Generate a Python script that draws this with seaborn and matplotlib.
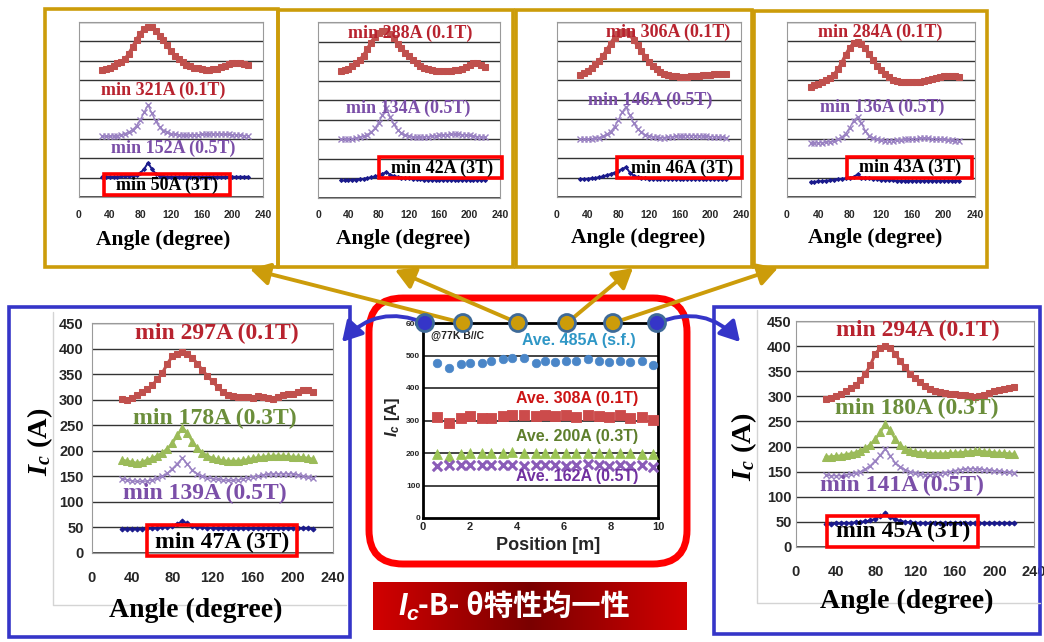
import numpy as np
import pandas as pd
import matplotlib
matplotlib.use('Agg')
import matplotlib.pyplot as plt
import seaborn as sns
from matplotlib.patches import Rectangle, FancyBboxPatch, Circle, FancyArrowPatch
from matplotlib.colors import LinearSegmentedColormap

# ---------------- data ----------------
ANGLE = [30, 35, 40, 45, 50, 55, 60, 65, 70, 75, 80, 85, 90, 95, 100, 105, 110, 115, 120, 125,
         130, 135, 140, 145, 150, 155, 160, 165, 170, 175, 180, 185, 190, 195, 200, 205, 210, 215, 220]
ANGLE_TICKS = [0, 40, 80, 120, 160, 200, 240]
IC_TICKS = [0, 50, 100, 150, 200, 250, 300, 350, 400, 450]

# left large panel
L_01 = [302, 300, 303, 310, 315, 320, 328, 340, 352, 370, 385, 390, 393, 390, 382, 370, 358, 346, 336, 325,
        315, 310, 307, 306, 305, 305, 304, 307, 306, 303, 302, 305, 310, 312, 312, 315, 318, 318, 315]
L_03 = [182, 180, 178, 176, 178, 182, 185, 190, 196, 204, 215, 230, 245, 235, 218, 205, 196, 190, 186, 183,
        181, 180, 180, 180, 181, 183, 185, 187, 188, 189, 190, 190, 190, 189, 188, 188, 187, 186, 184]
L_05 = [145, 143, 141, 140, 140, 141, 143, 146, 150, 156, 165, 175, 186, 174, 162, 155, 150, 147, 145, 144,
        143, 142, 142, 143, 145, 147, 149, 151, 152, 154, 155, 155, 155, 155, 155, 153, 150, 148, 147]
L_3T = [47, 47, 47, 47, 47, 48, 48, 49, 50, 51, 53, 57, 62, 58, 53, 51, 50, 49, 49, 48,
        48, 48, 48, 48, 48, 48, 48, 48, 48, 48, 48, 48, 48, 48, 48, 48, 48, 48, 47]
# right large panel
R_01 = [294, 297, 300, 305, 310, 316, 322, 332, 345, 362, 385, 396, 400, 396, 385, 370, 358, 345, 336, 328,
        320, 315, 311, 308, 306, 305, 304, 303, 302, 300, 299, 300, 303, 307, 310, 312, 314, 317, 318]
R_03 = [180, 180, 181, 182, 184, 186, 188, 192, 197, 204, 215, 228, 245, 232, 215, 203, 196, 192, 190, 188,
        187, 186, 186, 186, 186, 187, 187, 188, 189, 190, 191, 191, 190, 189, 188, 187, 187, 186, 185]
R_05 = [143, 142, 142, 142, 143, 145, 147, 150, 155, 162, 172, 183, 196, 182, 168, 160, 154, 150, 147, 145,
        144, 144, 145, 146, 148, 150, 152, 154, 155, 156, 156, 155, 154, 153, 152, 151, 150, 149, 148]
R_3T = [46, 46, 47, 47, 48, 48, 49, 50, 51, 53, 56, 61, 67, 60, 55, 52, 50, 49, 48, 48,
        47, 47, 47, 47, 47, 47, 47, 47, 47, 47, 47, 47, 47, 47, 47, 47, 47, 47, 47]
# top panels
T1_01 = [326, 328, 332, 338, 344, 348, 354, 368, 385, 404, 420, 432, 438, 437, 428, 415, 403, 390, 375, 363,
         355, 347, 340, 336, 333, 331, 329, 327, 327, 328, 330, 334, 338, 342, 344, 345, 345, 343, 340]
T1_05 = [157, 156, 156, 157, 158, 160, 163, 167, 173, 183, 198, 218, 237, 215, 195, 180, 171, 166, 163, 161,
         160, 159, 159, 159, 160, 160, 161, 161, 162, 162, 162, 162, 161, 161, 160, 160, 159, 158, 158]
T1_3T = [52, 52, 52, 52, 52, 53, 53, 54, 55, 57, 62, 72, 88, 72, 60, 55, 53, 52, 52, 52,
         52, 52, 52, 52, 52, 52, 52, 52, 52, 52, 52, 52, 52, 52, 52, 52, 52, 52, 52]
T2_01 = [324, 327, 331, 337, 344, 352, 364, 380, 397, 412, 422, 428, 427, 420, 408, 394, 383, 372, 362, 353,
         345, 338, 333, 329, 326, 325, 324, 324, 324, 325, 326, 328, 331, 336, 341, 345, 345, 340, 335]
T2_05 = [151, 151, 151, 152, 153, 155, 158, 162, 168, 178, 193, 212, 230, 208, 188, 174, 166, 161, 158, 156,
         155, 155, 156, 157, 158, 159, 160, 161, 162, 163, 163, 163, 162, 161, 160, 158, 157, 156, 155]
T2_3T = [45, 45, 46, 46, 47, 48, 49, 51, 53, 55, 58, 62, 66, 60, 56, 54, 52, 51, 50, 49,
         48, 48, 47, 47, 47, 46, 46, 46, 46, 46, 46, 46, 46, 46, 46, 46, 46, 46, 46]
T3_01 = [314, 318, 325, 333, 341, 350, 362, 378, 394, 410, 420, 425, 425, 418, 404, 390, 375, 361, 348, 337,
         328, 322, 317, 313, 311, 310, 309, 309, 309, 310, 311, 312, 313, 314, 315, 316, 317, 317, 316]
T3_05 = [149, 149, 149, 150, 151, 153, 156, 161, 168, 180, 198, 218, 232, 210, 190, 175, 166, 160, 157, 155,
         154, 153, 153, 154, 155, 156, 157, 158, 158, 158, 158, 157, 157, 156, 155, 155, 154, 154, 153]
T3_3T = [46, 46, 47, 48, 49, 51, 53, 56, 59, 63, 67, 72, 77, 63, 55, 51, 49, 48, 47, 47,
         46, 46, 46, 46, 46, 46, 46, 46, 46, 46, 46, 46, 46, 46, 46, 46, 46, 46, 46]
T4_01 = [284, 287, 291, 296, 301, 306, 314, 328, 345, 365, 383, 395, 398, 393, 382, 367, 352, 338, 326, 316,
         308, 302, 299, 297, 296, 296, 296, 296, 297, 298, 300, 303, 306, 309, 311, 312, 311, 310, 309]
T4_05 = [139, 139, 139, 140, 141, 142, 144, 148, 154, 163, 178, 196, 206, 190, 170, 158, 152, 148, 146, 145,
         145, 145, 146, 147, 148, 149, 150, 150, 151, 151, 151, 150, 150, 149, 148, 147, 146, 145, 145]
T4_3T = [39, 39, 40, 41, 42, 43, 44, 46, 47, 48, 49, 52, 58, 50, 49, 48, 47, 46, 45, 44,
         43, 43, 42, 42, 42, 42, 42, 42, 42, 42, 42, 42, 42, 42, 42, 42, 42, 42, 42]

# centre panel (Ic vs position)
POSITION = [0.6, 1.1, 1.6, 2.0, 2.5, 2.9, 3.4, 3.8, 4.3, 4.8, 5.2, 5.6, 6.1, 6.5, 7.0, 7.5, 7.9, 8.4, 8.8, 9.3, 9.8]
IC_SF = [476, 461, 474, 476, 478, 484, 488, 491, 491, 478, 484, 481, 484, 484, 488, 484, 481, 484, 481, 484, 471]
IC_01 = [312, 292, 307, 314, 307, 307, 314, 317, 317, 314, 317, 314, 317, 312, 317, 314, 310, 317, 307, 312, 303]
IC_03 = [197, 190, 198, 199, 200, 199, 201, 202, 201, 200, 201, 200, 201, 200, 199, 200, 201, 200, 199, 198, 197]
IC_05 = [160, 163, 162, 164, 163, 162, 164, 163, 161, 163, 164, 162, 161, 163, 165, 162, 161, 163, 160, 162, 158]
POS_TICKS = [0, 2, 4, 6, 8, 10]
POS_IC_TICKS = [0, 100, 200, 300, 400, 500, 600]

# ---------------- style ----------------
sns.set_theme(style='white')
plt.rcParams['font.family'] = ['Liberation Sans', 'DejaVu Sans']
plt.rcParams['mathtext.fontset'] = 'custom'
plt.rcParams['mathtext.it'] = 'Liberation Serif:italic:bold'
plt.rcParams['mathtext.rm'] = 'Liberation Serif:bold'
plt.rcParams['mathtext.sf'] = 'Liberation Sans:italic:bold'

C_RED = '#C0504D'
C_GREEN = '#9BBB59'
C_PURPLE = '#9A82C2'
C_NAVY = '#1A1A8C'
T_RED = '#B8232F'
T_GREEN = '#6B8E3B'
T_PURPLE = '#7B4FA8'
GOLD = '#CC9C0A'
BLUE = '#3535C8'

W, H = 1044, 642
fig = plt.figure(figsize=(W / 100, H / 100), dpi=100)
fig.patch.set_facecolor('white')


def px_axes(x0, y0, x1, y1, **kw):
    return fig.add_axes([x0 / W, 1 - y1 / H, (x1 - x0) / W, (y1 - y0) / H], **kw)


def angle_panel(box, curves, big):
    ax = px_axes(*box)
    ax.set_facecolor('white')
    ms = 5.0 if big else 4.0
    lw_r = 2.2 if big else 2.6
    for vals, kind in curves:
        if kind == '01':
            sns.lineplot(x=ANGLE, y=vals, ax=ax, color=C_RED, marker='s', markersize=ms,
                         mec=C_RED, mfc=C_RED, lw=lw_r)
        elif kind == '03':
            sns.lineplot(x=ANGLE, y=vals, ax=ax, color=C_GREEN, marker='^', markersize=ms + 1,
                         mec=C_GREEN, mfc=C_GREEN, lw=1.8)
        elif kind == '05':
            sns.lineplot(x=ANGLE, y=vals, ax=ax, color=C_PURPLE, marker='x', markersize=ms,
                         mec=C_PURPLE, mew=1.0, lw=1.0)
        else:
            sns.lineplot(x=ANGLE, y=vals, ax=ax, color=C_NAVY, marker='D', markersize=ms * 0.5,
                         mec=C_NAVY, mfc=C_NAVY, lw=1.4)
    ax.set_xlim(0, 240)
    ax.set_ylim(0, 450)
    ax.grid(False)
    ax.set_yticks(IC_TICKS)
    for v in IC_TICKS[1:]:
        ax.axhline(v, color='#333333', lw=1.0, zorder=0.5)
    ax.axhline(0, color='#333333', lw=1.2, zorder=0.5)
    for s in ax.spines.values():
        s.set_color('#9a9a9a')
        s.set_linewidth(0.8)
    if big:
        ax.set_xticks(ANGLE_TICKS, [str(t) for t in ANGLE_TICKS], fontsize=10.5, fontweight='bold')
        ax.set_yticklabels([str(t) for t in IC_TICKS], fontsize=10.5, fontweight='bold')
    else:
        ax.set_xticks(ANGLE_TICKS, [str(t) for t in ANGLE_TICKS], fontsize=7.5, fontweight='bold')
        ax.set_yticklabels([])
    ax.tick_params(axis='x', direction='in', length=3, color='#555555', pad=13 if big else 9)
    ax.tick_params(axis='y', length=0, pad=6)
    ax.set_xlabel('')
    ax.set_ylabel('')
    return ax


# top panels
axT1 = angle_panel((79, 22, 263, 197), [(T1_01, '01'), (T1_05, '05'), (T1_3T, '3T')], False)
axT2 = angle_panel((318, 22, 500, 198), [(T2_01, '01'), (T2_05, '05'), (T2_3T, '3T')], False)
axT3 = angle_panel((557, 22, 741, 197), [(T3_01, '01'), (T3_05, '05'), (T3_3T, '3T')], False)
axT4 = angle_panel((787, 22, 975, 197), [(T4_01, '01'), (T4_05, '05'), (T4_3T, '3T')], False)
# side panels
axL = angle_panel((92, 323, 333, 553), [(L_01, '01'), (L_03, '03'), (L_05, '05'), (L_3T, '3T')], True)
axR = angle_panel((796, 321, 1034, 547), [(R_01, '01'), (R_03, '03'), (R_05, '05'), (R_3T, '3T')], True)
axR.tick_params(axis='y', pad=3)

# centre panel
axC = px_axes(423, 323, 658, 518)
axC.set_facecolor('white')
sns.scatterplot(x=POSITION, y=IC_SF, ax=axC, color='#4A86C8', marker='o', s=38, edgecolor='#4A86C8', zorder=3)
sns.scatterplot(x=POSITION, y=IC_01, ax=axC, color='#CC4B4B', marker='s', s=60, edgecolor='#CC4B4B', zorder=3)
sns.scatterplot(x=POSITION, y=IC_03, ax=axC, color='#9BC454', marker='^', s=50, edgecolor='#9BC454', zorder=3)
sns.scatterplot(x=POSITION, y=IC_05, ax=axC, color='#8A5CB8', marker='x', s=45, linewidth=2.2, zorder=3)
axC.set_xlim(0, 10)
axC.set_ylim(0, 600)
axC.grid(False)
for v in POS_IC_TICKS[1:-1]:
    axC.axhline(v, color='#111111', lw=1.1, zorder=1)
for s in axC.spines.values():
    s.set_color('black')
    s.set_linewidth(2.0)
axC.set_xticks(POS_TICKS, [str(t) for t in POS_TICKS], fontsize=8, fontweight='bold')
axC.set_yticks(POS_IC_TICKS, [str(t) for t in POS_IC_TICKS], fontsize=6, fontweight='bold')
axC.tick_params(direction='in', length=4, width=1.5, color='black', pad=3)
axC.tick_params(axis='y', pad=2)

# ---------------- overlay (pixel coordinates) ----------------
ov = fig.add_axes([0, 0, 1, 1], zorder=10)
ov.set_xlim(0, W)
ov.set_ylim(H, 0)
ov.axis('off')
ov.patch.set_alpha(0)

# chart-area borders of the side panels
ov.plot([53, 53, 346], [312, 605, 605], color='#d4d4d4', lw=1)
ov.plot([757, 757, 1040], [310, 603, 603], color='#d4d4d4', lw=1)

# gold boxes
for (x0, y0, x1, y1) in [(45, 9, 278, 267), (278, 10, 513, 267), (516, 10, 752, 267), (754, 11, 987, 267)]:
    ov.add_patch(Rectangle((x0, y0), x1 - x0, y1 - y0, fill=False, ec=GOLD, lw=2.6))
# blue boxes
for (x0, y0, x1, y1) in [(9, 307, 350, 637), (714, 307, 1040, 634)]:
    ov.add_patch(Rectangle((x0, y0), x1 - x0, y1 - y0, fill=False, ec=BLUE, lw=2.6))
# red rounded box
ov.add_patch(FancyBboxPatch((369, 298), 318, 266, boxstyle='round,pad=0,rounding_size=34',
                            fill=False, ec='#FF0000', lw=5.0))

serif = dict(family='Liberation Serif', weight='bold')

# curve annotations
def note(x, y, s, c, fs):
    ov.text(x, y, s, color=c, fontsize=fs, ha='center', va='center', **serif)

def redbox(x0, y0, x1, y1):
    ov.add_patch(Rectangle((x0, y0), x1 - x0, y1 - y0, fill=False, ec='#FF0000', lw=2.6))

fs_s = 13
note(163, 90, 'min 321A (0.1T)', T_RED, fs_s)
note(173, 148, 'min 152A (0.5T)', T_PURPLE, fs_s)
note(167, 185, 'min 50A (3T)', 'black', fs_s)
redbox(104, 174, 230, 195)
note(410, 33, 'min 288A (0.1T)', T_RED, fs_s)
note(408, 108, 'min 134A (0.5T)', T_PURPLE, fs_s)
note(442, 168, 'min 42A (3T)', 'black', fs_s)
redbox(379, 157, 502, 178)
note(668, 32, 'min 306A (0.1T)', T_RED, fs_s)
note(650, 100, 'min 146A (0.5T)', T_PURPLE, fs_s)
note(682, 168, 'min 46A (3T)', 'black', fs_s)
redbox(617, 157, 742, 178)
note(880, 32, 'min 284A (0.1T)', T_RED, fs_s)
note(882, 107, 'min 136A (0.5T)', T_PURPLE, fs_s)
note(910, 167, 'min 43A (3T)', 'black', fs_s)
redbox(847, 157, 972, 178)

fs_b = 17
note(217, 333, 'min 297A (0.1T)', T_RED, fs_b)
note(215, 418, 'min 178A (0.3T)', T_GREEN, fs_b)
note(205, 493, 'min 139A (0.5T)', T_PURPLE, fs_b)
note(222, 542, 'min 47A (3T)', 'black', fs_b)
redbox(147, 525, 297, 556)
note(918, 330, 'min 294A (0.1T)', T_RED, fs_b)
note(917, 408, 'min 180A (0.3T)', T_GREEN, fs_b)
note(902, 485, 'min 141A (0.5T)', T_PURPLE, fs_b)
note(903, 531, 'min 45A (3T)', 'black', fs_b)
redbox(827, 516, 978, 547)

# axis titles
for (x, y) in [(163, 240), (403, 239), (638, 238), (875, 238)]:
    ov.text(x, y, 'Angle (degree)', fontsize=15.5, ha='center', va='center', color='black', **serif)
ov.text(196, 610, 'Angle (degree)', fontsize=20, ha='center', va='center', color='black', **serif)
ov.text(907, 601, 'Angle (degree)', fontsize=20, ha='center', va='center', color='black', **serif)
ov.text(40, 442, r'$I_c$ (A)', fontsize=20.5, rotation=90, ha='center', va='center', color='black', **serif)
ov.text(744, 447, r'$I_c$ (A)', fontsize=20.5, rotation=90, ha='center', va='center', color='black', **serif)

# centre panel texts
ov.text(431, 336, '@77K B//C', fontsize=7.5, fontweight='bold', ha='left', va='center', color='#222222')
ov.text(579, 341, 'Ave. 485A (s.f.)', fontsize=11.5, fontweight='bold', ha='center', va='center', color='#2F97C6')
ov.text(577, 399, 'Ave. 308A (0.1T)', fontsize=11.5, fontweight='bold', ha='center', va='center', color='#CC1414')
ov.text(577, 437, 'Ave. 200A (0.3T)', fontsize=11.5, fontweight='bold', ha='center', va='center', color='#5E7E2C')
ov.text(577, 477, 'Ave. 162A (0.5T)', fontsize=11.5, fontweight='bold', ha='center', va='center', color='#7030A0')
ov.text(392, 417, r'$\mathsf{I_c}$ [A]', fontsize=12, fontweight='bold', rotation=90, ha='center', va='center')
ov.text(548, 546, 'Position [m]', fontsize=13, fontweight='bold', ha='center', va='center')

# arrows (gold)
for (sx, tx, ty) in [(463, 250, 269), (518, 395, 270), (567, 633, 268), (613, 778, 268)]:
    ov.add_patch(FancyArrowPatch((sx, 323), (tx, ty), arrowstyle='-|>,head_length=0.7,head_width=0.4',
                                 mutation_scale=17, lw=2.8, color=GOLD, shrinkA=0, shrinkB=0))
# arrows (blue, curved)
ov.add_patch(FancyArrowPatch((425, 323), (342, 342), connectionstyle='arc3,rad=0.35',
                             arrowstyle='-|>,head_length=0.7,head_width=0.4', mutation_scale=17,
                             lw=2.8, color=BLUE, shrinkA=0, shrinkB=0))
ov.add_patch(FancyArrowPatch((657, 323), (740, 342), connectionstyle='arc3,rad=-0.35',
                             arrowstyle='-|>,head_length=0.7,head_width=0.4', mutation_scale=17,
                             lw=2.8, color=BLUE, shrinkA=0, shrinkB=0))
# circles on the position axis
for cx, fc in [(425, BLUE), (463, GOLD), (518, GOLD), (567, GOLD), (613, GOLD), (657, BLUE)]:
    ov.add_patch(Circle((cx, 323), 8.5, fc=fc, ec='#3E6A98', lw=2.0, zorder=5))

# title bar with gradient
axTitle = px_axes(373, 582, 687, 630)
cmap = LinearSegmentedColormap.from_list('bar', ['#D20000', '#7A0000', '#D20000'])
axTitle.imshow(np.linspace(0, 1, 256)[None, :], aspect='auto', cmap=cmap, extent=(0, 1, 0, 1))
axTitle.axis('off')
ov.text(398, 607, r'$\mathsf{I_c}$', fontsize=22, color='white', ha='left', va='center')
ov.text(418, 606, '-B- θ特性均一性', fontsize=21, fontweight='bold', color='white', ha='left', va='center',
        family=['Noto Sans CJK JP', 'DejaVu Sans'])

fig.savefig('out.png', dpi=100, facecolor='white')
